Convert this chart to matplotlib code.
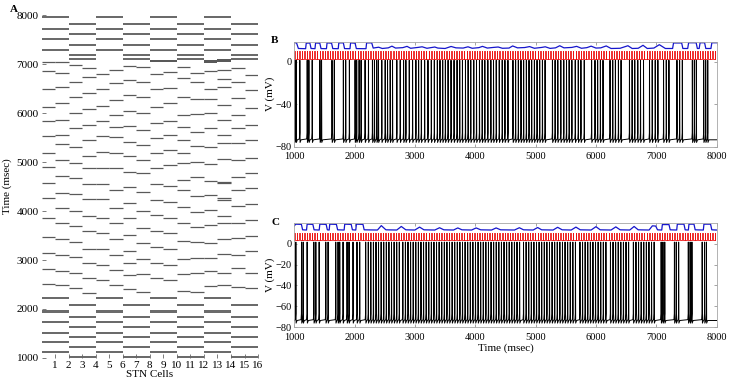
import matplotlib
matplotlib.use('Agg')
import matplotlib.pyplot as plt
import numpy as np

plt.rcParams['font.family'] = ['Liberation Serif', 'DejaVu Serif']

# ---- panel A : raster of 16 STN cells (msec) ----
cells = list(range(1, 17))

# single spikes, one list per cell
single_spikes = [
    [7048, 6864, 6483, 6129, 5843, 5531, 5190, 4905, 4579, 4259, 3851, 3463, 3150, 2809, 2510],
    [7040, 6823, 6524, 6197, 5857, 5551, 5367, 5041, 4714, 4361, 4055, 3749, 3422, 3102, 2782, 2490],
    [6980, 6639, 6333, 5993, 5687, 5313, 4973, 4667, 4340, 4007, 3694, 3374, 3055, 2728, 2422],
    [6912, 6728, 6401, 6075, 5755, 5449, 5122, 4871, 4545, 4238, 3898, 3592, 3218, 2932, 2626, 2320],
    [6796, 6483, 6143, 5843, 5531, 5211, 4871, 4545, 4238, 3851, 3545, 3218, 2898, 2592],
    [6878, 6619, 6265, 5959, 5721, 5517, 5190, 4884, 4429, 4055, 3749, 3422, 3102, 2796, 2490],
    [6959, 6673, 6367, 6041, 5735, 5415, 5122, 4802, 4483, 4170, 3864, 3510, 3184, 2932, 2694, 2401],
    [6946, 6639, 6333, 5993, 5653, 5347, 5041, 4769, 4395, 4000, 3660, 3354, 3021, 2714, 2354],
    [6796, 6483, 6116, 5789, 5483, 5177, 4871, 4545, 4225, 3919, 3592, 3272, 2932, 2626],
    [6843, 6504, 6197, 5843, 5551, 5245, 4939, 4510, 4191, 3851, 3545, 3218, 2898, 2592],
    [6946, 6707, 6320, 5959, 5721, 5449, 5177, 4973, 4633, 4429, 4089, 3749, 3388, 3021, 2714, 2374],
    [6810, 6639, 6279, 5980, 5619, 5326, 5007, 4701, 4306, 3973, 3681, 3361, 3050, 2741, 2354],
    [6864, 6483, 6279, 6007, 5687, 5313, 4959, 4610, 4327, 4021, 3715, 3340, 3040, 2782, 2469],
    [6878, 6687, 6524, 6163, 5857, 5551, 5381, 5054, 4600, 4565, 4260, 4225, 3898, 3749, 3422, 3123, 2728, 2490],
    [6912, 6626, 6299, 5959, 5687, 5381, 5041, 4687, 4429, 4102, 3762, 3442, 3102, 2830, 2456],
    [6776, 6469, 6095, 5755, 5449, 5075, 4782, 4463, 4143, 3817, 3490, 3184, 2728, 2422],
]

# burst onsets for the two anti-phase groups of cells
group_a = [1, 2, 5, 6, 9, 10, 13, 14]
group_b = [3, 4, 7, 8, 11, 12, 15, 16]
bursts_a = [1105, 1310, 1480, 1720, 1925, 2195, 7265, 7480, 7685, 7940]
bursts_b = [1000, 1208, 1400, 1605, 1820, 2060, 7075, 7160, 7365, 7585, 7795]
bursts_a_extra = {9: [7040], 10: [7040], 13: [7030], 14: [7050]}

# ---- panels B and C : membrane potential of one cell (mV) ----
spikes_b = [1010, 1033, 1094, 1216, 1244, 1299, 1427, 1454, 1627, 1665, 1815, 1854, 1915,
            2009, 2036, 2076, 2109, 2175, 2231, 2297, 2330, 2369, 2397, 2452, 2508, 2547,
            2591, 2630, 2701, 2757, 2813, 2851, 2907, 2962, 3017, 3062, 3107, 3162, 3217,
            3272, 3322, 3372, 3416, 3461, 3505, 3550, 3599, 3649, 3699, 3743, 3788, 3838,
            3882, 3926, 3976, 4021, 4070, 4115, 4159, 4209, 4259, 4303, 4348, 4398, 4447,
            4492, 4542, 4625, 4669, 4714, 4758, 4802, 4847, 4891, 4935, 4980, 5024, 5068,
            5113, 5157, 5279, 5323, 5368, 5418, 5467, 5512, 5556, 5601, 5657, 5707, 5751,
            5806, 5928, 5984, 6028, 6073, 6117, 6233, 6278, 6322, 6372, 6416, 6555, 6599,
            6643, 6693, 6738, 6788, 6887, 6932, 6982, 7026, 7120, 7165, 7209, 7342, 7386,
            7431, 7597, 7630, 7663, 7785, 7818, 7852]

spikes_c = [1028, 1122, 1149, 1215, 1326, 1359, 1414, 1524, 1562, 1689, 1727, 1755, 1810,
            1876, 1909, 1975, 2041, 2086, 2185, 2228, 2270, 2313, 2356, 2398, 2441, 2484,
            2527, 2570, 2613, 2656, 2699, 2742, 2800, 2843, 2886, 2929, 2972, 3015, 3058,
            3101, 3144, 3187, 3230, 3273, 3316, 3359, 3402, 3445, 3488, 3531, 3574, 3617,
            3660, 3703, 3746, 3789, 3832, 3875, 3918, 3961, 4004, 4047, 4090, 4133, 4176,
            4219, 4262, 4305, 4348, 4391, 4434, 4477, 4520, 4563, 4606, 4649, 4692, 4735,
            4800, 4843, 4886, 4929, 4972, 5015, 5058, 5101, 5144, 5187, 5230, 5273, 5316,
            5359, 5402, 5445, 5488, 5531, 5574, 5617, 5660, 5735, 5778, 5821, 5864, 5907,
            5950, 5993, 6036, 6079, 6122, 6165, 6240, 6283, 6326, 6369, 6412, 6455, 6498,
            6541, 6620, 6663, 6706, 6749, 6792, 6835, 6878, 6921, 6964, 7080, 7110, 7140,
            7300, 7330, 7370, 7530, 7560, 7590, 7760, 7800, 7830]

# blue (synaptic) trace, read at corner points
blue_b_t = [1000, 1040, 1070, 1190, 1200, 1260, 1280, 1345, 1355, 1425, 1445, 1535, 1545,
            1620, 1640, 1730, 1740, 1815, 1835, 1925, 1935, 2010, 2030, 2190, 2200, 2285,
            2310, 2400, 2460, 2560, 2620, 2680, 2800, 2870, 2930, 3050, 3120, 3200, 3330,
            3380, 3500, 3600, 3680, 3800, 3880, 3950, 4060, 4120, 4200, 4300, 4380, 4450,
            4560, 4620, 4700, 4820, 4900, 4980, 5100, 5160, 5240, 5330, 5400, 5470, 5600,
            5680, 5760, 5850, 5920, 6000, 6080, 6170, 6250, 6400, 6530, 6600, 6700, 6780,
            6850, 6960, 7050, 7150, 7270, 7285, 7420, 7440, 7520, 7535, 7660, 7680, 7710,
            7725, 7800, 7820, 7905, 7920, 8000]
blue_b_v = [18.2, 17.8, 12.6, 12.4, 17.6, 17.8, 12.6, 12.4, 17.8, 17.6, 12.5, 12.4, 17.9,
            17.6, 12.5, 12.4, 17.9, 17.9, 12.5, 12.4, 17.9, 17.6, 12.5, 12.4, 17.9, 17.9,
            13.0, 13.8, 12.6, 13.2, 14.8, 13.0, 13.4, 14.6, 12.8, 13.6, 14.2, 12.8, 14.0,
            13.0, 12.6, 14.5, 13.2, 13.0, 14.2, 12.8, 13.4, 14.6, 13.0, 13.6, 14.0, 12.8,
            13.0, 15.0, 13.2, 13.5, 14.4, 12.8, 13.6, 14.2, 12.7, 13.2, 15.2, 13.2, 13.6,
            14.6, 12.8, 13.4, 14.8, 13.0, 13.2, 15.0, 12.6, 12.8, 15.2, 12.6, 12.8, 15.6,
            12.6, 13.0, 16.2, 12.6, 12.6, 17.8, 17.8, 12.6, 12.6, 18.0, 18.0, 12.6, 12.6,
            18.0, 18.0, 12.6, 12.6, 18.0, 18.0]

blue_c_t = [1000, 1030, 1120, 1140, 1205, 1215, 1310, 1330, 1415, 1425, 1530, 1550, 1580,
            1590, 1700, 1720, 1828, 1838, 1945, 1965, 2021, 2031, 2140, 2160, 2380, 2444,
            2520, 2700, 2775, 2850, 3000, 3078, 3150, 3330, 3409, 3480, 3640, 3711, 3780,
            3940, 4015, 4090, 4270, 4346, 4420, 4650, 4731, 4800, 4960, 5034, 5100, 5290,
            5365, 5440, 5590, 5668, 5740, 5920, 6000, 6070, 6250, 6329, 6400, 6560, 6632,
            6700, 6880, 6935, 6990, 7020, 7090, 7100, 7210, 7230, 7338, 7348, 7458, 7478,
            7531, 7541, 7624, 7644, 7779, 7789, 7899, 7919, 8000]
blue_c_v = [17.0, 18.6, 18.4, 13.2, 13.0, 18.6, 18.4, 13.2, 13.0, 18.6, 18.4, 13.2, 13.0,
            18.6, 18.4, 13.2, 13.0, 18.6, 18.4, 13.2, 13.0, 18.6, 18.4, 13.2, 13.0, 17.2,
            13.2, 13.0, 16.4, 13.2, 13.0, 15.8, 13.2, 13.0, 15.2, 13.2, 13.0, 15.0, 13.2,
            13.0, 15.0, 13.2, 13.0, 15.0, 13.2, 13.0, 15.2, 13.2, 13.0, 15.4, 13.2, 13.0,
            15.6, 13.2, 13.0, 15.8, 13.2, 13.0, 16.2, 13.2, 13.0, 16.0, 13.2, 13.0, 16.4,
            13.2, 13.0, 17.0, 16.8, 13.2, 13.0, 18.2, 18.2, 13.2, 13.0, 18.6, 18.6, 13.2,
            13.0, 18.6, 18.6, 13.2, 13.0, 18.6, 18.6, 13.2, 13.0]

stim_period = 42   # msec between red input pulses
stim_width = 8
stim_low, stim_high = 3.0, 10.5

v_peak, v_thr, v_trough, v_rest = 1.5, -67.0, -76.0, -73.5


def voltage_trace(spikes, t0=1000, t1=8000):
    # corner points of the black trace: rest, spike up, down to trough, back to rest
    tt = [t0]
    vv = [v_rest]
    for s in spikes:
        tt += [s - 8, s - 2, s, s + 4, s + 20]
        vv += [v_rest + 0.8, v_thr, v_peak, v_trough, v_rest]
    tt.append(t1)
    vv.append(v_rest)
    return np.array(tt), np.array(vv)


def stim_trace(t0=1000, t1=8000):
    onsets = np.arange(t0, t1, stim_period)
    tt, vv = [], []
    for s in onsets:
        tt += [s, s, s + stim_width, s + stim_width]
        vv += [stim_low, stim_high, stim_high, stim_low]
    return tt, vv


fig = plt.figure(figsize=(7.31, 3.89), dpi=100)

# ---- A ----
axA = fig.add_axes([0.0568, 0.0797, 0.2962, 0.8817])
gray = '0.35'
for i, times in zip(cells, single_spikes):
    axA.hlines(times, i - 1, i, color=gray, lw=0.9)
burst_len = 45
for i in group_a:
    axA.bar(i - 0.5, burst_len, width=1, bottom=bursts_a, color='0.42', lw=0)
    if i in bursts_a_extra:
        axA.bar(i - 0.5, burst_len, width=1, bottom=bursts_a_extra[i], color='0.35', lw=0)
for i in group_b:
    axA.bar(i - 0.5, burst_len, width=1, bottom=bursts_b, color='0.42', lw=0)

axA.set_xlim(0, 16)
axA.set_ylim(1000, 8000)
axA.set_xticks(cells)
axA.set_yticks(range(1000, 8001, 1000))
for sp in axA.spines.values():
    sp.set_visible(False)
axA.tick_params(direction='in', length=3, width=0.6, color='0.4', labelsize=8, pad=2)
axA.set_xlabel('STN Cells', fontsize=8, labelpad=0)
axA.set_ylabel('Time (msec)', fontsize=8, labelpad=3)


def trace_panel(rect, spikes, bt, bv, ytop, yticks):
    ax = fig.add_axes(rect)
    t, v = voltage_trace(spikes)
    ax.plot(t, v, color='black', lw=0.7)
    st, sv = stim_trace()
    ax.plot(st, sv, color='#ee1111', lw=0.6)
    ax.plot(bt, bv, color='#1515cc', lw=0.9)
    ax.set_xlim(1000, 8000)
    ax.set_ylim(-80, ytop)
    ax.set_xticks(range(1000, 8001, 1000))
    ax.set_yticks(yticks)
    for sp in ax.spines.values():
        sp.set_color('0.65')
        sp.set_linewidth(0.6)
    ax.tick_params(direction='in', length=2.5, width=0.5, color='0.5', labelsize=7.5,
                   top=True, right=True, pad=2)
    ax.tick_params(axis='x', pad=4)
    ax.set_ylabel('V (mV)', fontsize=8, labelpad=0)
    return ax


axB = trace_panel([0.4024, 0.6229, 0.578, 0.2699], spikes_b, blue_b_t, blue_b_v, 19, [-80, -40, 0])
axC = trace_panel([0.4024, 0.1586, 0.578, 0.2689], spikes_c, blue_c_t, blue_c_v, 20,
                  [-80, -60, -40, -20, 0])
axC.set_xlabel('Time (msec)', fontsize=8, labelpad=1)

fig.text(0.013, 0.975, 'A', fontsize=8, fontweight='bold', va='center')
fig.text(0.370, 0.897, 'B', fontsize=8, fontweight='bold', va='center')
fig.text(0.372, 0.427, 'C', fontsize=8, fontweight='bold', va='center')

fig.savefig('out.png', dpi=100)
